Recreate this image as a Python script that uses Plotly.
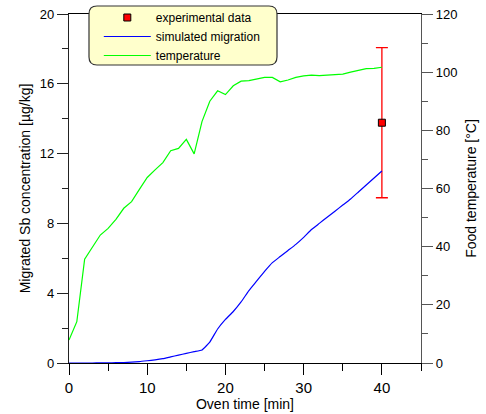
import plotly.graph_objects as go

# ---- data ----
time_min = list(range(0, 41))
temperature_c = [7.9, 14.2, 35.7, 40.0, 44.0, 46.3, 49.4, 53.2, 55.5, 59.7,
                 63.8, 66.4, 68.9, 73.0, 73.8, 76.9, 71.9, 83.0, 90.0, 93.6,
                 92.3, 95.3, 96.9, 97.1, 97.6, 98.2, 98.2, 96.7, 97.3, 98.2,
                 98.7, 99.0, 98.8, 99.0, 99.1, 99.3, 100.0, 100.5, 101.2, 101.3,
                 101.7]
simulated_sb = [0.0, 0.0, 0.0, 0.0, 0.01, 0.01, 0.02, 0.03, 0.05, 0.08,
                0.13, 0.18, 0.25, 0.35, 0.45, 0.55, 0.65, 0.75, 1.2, 1.95,
                2.5, 2.95, 3.5, 4.15, 4.7, 5.25, 5.75, 6.1, 6.45, 6.8,
                7.2, 7.65, 8.0, 8.35, 8.7, 9.05, 9.4, 9.8, 10.2, 10.6,
                11.0]
exp_time = [40]
exp_sb = [13.77]
exp_err = [4.3]

x_ticks = [0, 10, 20, 30, 40]
y1_ticks = [0, 4, 8, 12, 16, 20]
y2_ticks = [0, 20, 40, 60, 80, 100, 120]

FONT = "Arial, Liberation Sans, sans-serif"

# plot area targeted at x 69..421, y 14..363 (page px)
PW, PH = 352, 349

fig = go.Figure()
fig.add_trace(go.Scatter(
    x=exp_time, y=exp_sb, mode="markers", name="experimental data",
    marker=dict(symbol="square", size=7, color="#ff0000",
                line=dict(color="#000000", width=1)),
    error_y=dict(type="data", array=exp_err, visible=True,
                 color="#ff0000", thickness=1.3, width=6),
    yaxis="y"))
fig.add_trace(go.Scatter(
    x=time_min, y=simulated_sb, mode="lines", name="simulated migration",
    line=dict(color="#0000ff", width=1.2, shape="spline", smoothing=0.4),
    yaxis="y"))
fig.add_trace(go.Scatter(
    x=time_min, y=temperature_c, mode="lines", name="temperature",
    line=dict(color="#00ff00", width=1.2), yaxis="y2"))

# rounded legend box behind the legend
x0, x1 = (89 - 69) / PW, (277 - 69) / PW
y0, y1 = (363 - 65) / PH, (363 - 6) / PH
rx, ry = 8 / PW, 8 / PH
path = (f"M {x0+rx},{y1} L {x1-rx},{y1} Q {x1},{y1} {x1},{y1-ry} "
        f"L {x1},{y0+ry} Q {x1},{y0} {x1-rx},{y0} L {x0+rx},{y0} "
        f"Q {x0},{y0} {x0},{y0+ry} L {x0},{y1-ry} Q {x0},{y1} {x0+rx},{y1} Z")
fig.add_shape(type="path", path=path, xref="paper", yref="paper",
              fillcolor="#ffffcc", line=dict(color="#333333", width=1.2),
              layer="above")

fig.update_layout(
    width=486, height=414,
    margin=dict(l=69, r=65, t=14, b=51, autoexpand=False),
    paper_bgcolor="white", plot_bgcolor="white",
    font=dict(family=FONT, color="#000000", size=13),
    showlegend=True,
    legend=dict(x=(98.8 - 69) / PW, y=(363 - 3.0) / PH, xanchor="left", yanchor="top",
                bgcolor="rgba(0,0,0,0)", borderwidth=0,
                font=dict(size=12, family=FONT), tracegroupgap=0,
                itemwidth=47),
    xaxis=dict(range=[0, 45], tickvals=x_ticks, showgrid=False, zeroline=False,
               showline=True, linecolor="#000000", linewidth=1.2, mirror=True,
               ticks="outside", ticklen=11, tickcolor="#000000",
               tickfont=dict(size=15),
               minor=dict(dtick=5, ticklen=7, ticks="outside", tickcolor="#000000"),
               title=dict(text="Oven time [min]", font=dict(size=14), standoff=4)),
    yaxis=dict(range=[0, 20], tickvals=y1_ticks, showgrid=False, zeroline=False,
               showline=True, linecolor="#222222", linewidth=1.2,
               ticks="outside", ticklen=11, tickcolor="#222222",
               tickfont=dict(size=13), ticklabeloverflow="allow",
               minor=dict(dtick=2, ticklen=6, ticks="outside", tickcolor="#222222"),
               title=dict(text="Migrated Sb concentration [µg/kg]",
                          font=dict(size=14), standoff=5)),
    yaxis2=dict(range=[0, 120], tickvals=y2_ticks, overlaying="y", side="right",
                showgrid=False, zeroline=False,
                showline=True, linecolor="#555555", linewidth=1.2,
                ticks="outside", ticklen=11, tickcolor="#555555",
                tickfont=dict(size=13), ticklabeloverflow="allow",
                minor=dict(dtick=10, ticklen=6, ticks="outside", tickcolor="#555555"),
                title=dict(text="Food temperature [°C]", font=dict(size=14), standoff=9)),
)

fig.write_html("out.html",
               config={"displayModeBar": False},
               post_script="document.body.style.margin='0';")
